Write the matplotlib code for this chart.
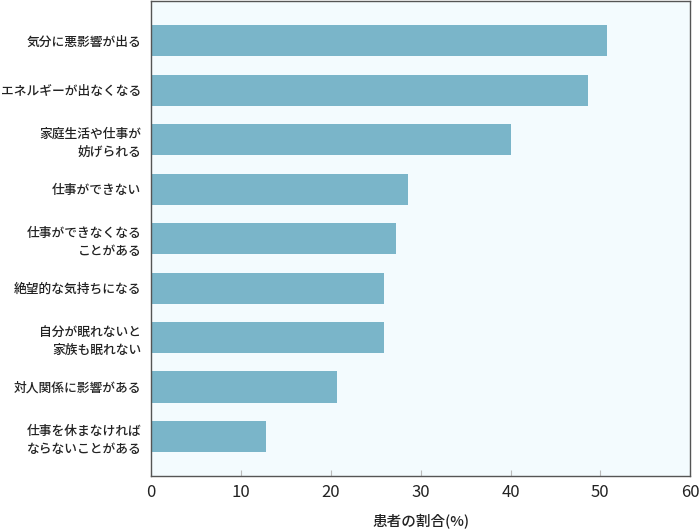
import matplotlib
matplotlib.use("Agg")
import matplotlib.pyplot as plt

plt.rcParams['font.family'] = ['Noto Sans CJK JP', 'DejaVu Sans']

categories = [
    "気分に悪影響が出る",
    "エネルギーが出なくなる",
    "家庭生活や仕事が\n妨げられる",
    "仕事ができない",
    "仕事ができなくなる\nことがある",
    "絶望的な気持ちになる",
    "自分が眠れないと\n家族も眠れない",
    "対人関係に影響がある",
    "仕事を休まなければ\nならないことがある",
]
values = [50.7, 48.6, 40.0, 28.6, 27.3, 25.9, 25.9, 20.7, 12.8]
xticks = [0, 10, 20, 30, 40, 50, 60]
xlabel = "患者の割合(%)"

fig = plt.figure(figsize=(7.0, 5.32), dpi=100)
ax = fig.add_axes([0.216, 0.105, 0.770, 0.893])
ax.set_facecolor("#f3fbfe")

pos = list(range(len(categories)))
ax.barh(pos, values, height=0.63, color="#7ab5c9", edgecolor="none")
ax.set_yticks(pos)
ax.set_yticklabels(categories, fontsize=9.2, fontweight='medium', color="#222222",
                   ha='right', multialignment='right', linespacing=1.45)
ax.set_ylim(len(categories) - 0.2, -0.8)
ax.set_xlim(0, 60)
ax.set_xticks(xticks)
ax.set_xticklabels([str(t) for t in xticks], fontsize=12, color="#222222")
ax.tick_params(axis='y', length=0, pad=7)
ax.tick_params(axis='x', direction='in', length=4, color="#bbbbbb", pad=6)
ax.set_xlabel(xlabel, fontsize=10.5, fontweight='medium', color="#222222", labelpad=9)
for s in ax.spines.values():
    s.set_color("#555555")
    s.set_linewidth(1.0)

fig.savefig("out.png", dpi=100)
